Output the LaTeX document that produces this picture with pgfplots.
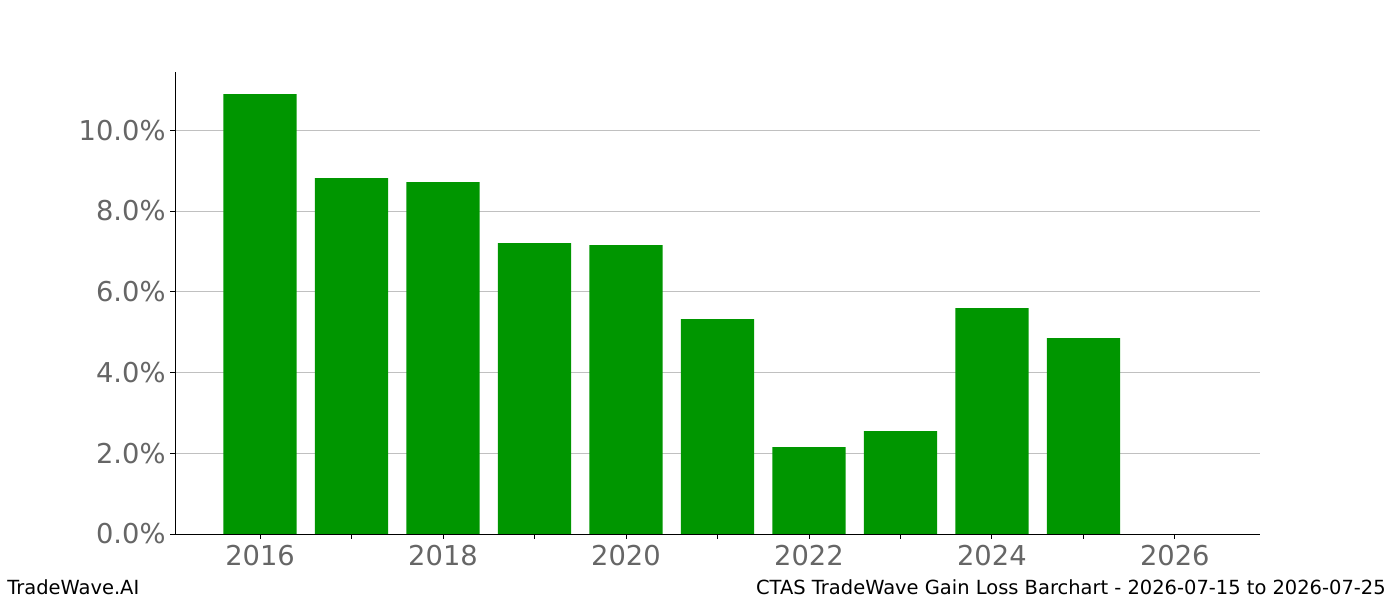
\documentclass[border=0pt]{standalone}
\usepackage{pgfplots}
\pgfplotsset{compat=1.18}
\usepackage{fontspec}
\setmainfont{DejaVu Sans}
\definecolor{bargreen}{RGB}{0,150,0}
\definecolor{ticklab}{RGB}{102,102,102}
\definecolor{gridc}{RGB}{192,192,192}
\begin{document}
\begin{tikzpicture}
\path[use as bounding box] (0pt,0pt) rectangle (1050pt,450pt);
\begin{axis}[
  at={(131.25pt,49.5pt)}, anchor=origin,
  scale only axis, width=813.75pt, height=346.5pt,
  xmin=2015.07, xmax=2026.93, ymin=0, ymax=11.44,
  axis lines*=left,
  axis line style={black, line width=0.6pt},
  xtick={2016,...,2026},
  xticklabels={2016,,2018,,2020,,2022,,2024,,2026},
  ytick={0,2,4,6,8,10},
  yticklabels={0.0\%,2.0\%,4.0\%,6.0\%,8.0\%,10.0\%},
  tick style={black, line width=0.6pt},
  tick align=outside, major tick length=3.6pt,
  ticklabel style={text=ticklab, font=\fontsize{20.5}{24}\selectfont},
  xticklabel style={yshift=-1pt},
  ymajorgrids, grid style={gridc, line width=0.6pt},
  clip=false,
]
\addplot[ybar, bar width=0.8, bar shift=0pt, fill=bargreen, draw=none] coordinates {
 (2016,10.89) (2017,8.81) (2018,8.71) (2019,7.20) (2020,7.15)
 (2021,5.32) (2022,2.15) (2023,2.55) (2024,5.59) (2025,4.85)
};
\end{axis}
\node[anchor=base west, font=\fontsize{14.6}{17}\selectfont, inner sep=0] at (5.25pt,4.5pt) {TradeWave.AI};
\node[anchor=base east, font=\fontsize{14.6}{17}\selectfont, inner sep=0] at (1039.5pt,4.5pt) {CTAS TradeWave Gain Loss Barchart - 2026-07-15 to 2026-07-25};
\end{tikzpicture}
\end{document}
